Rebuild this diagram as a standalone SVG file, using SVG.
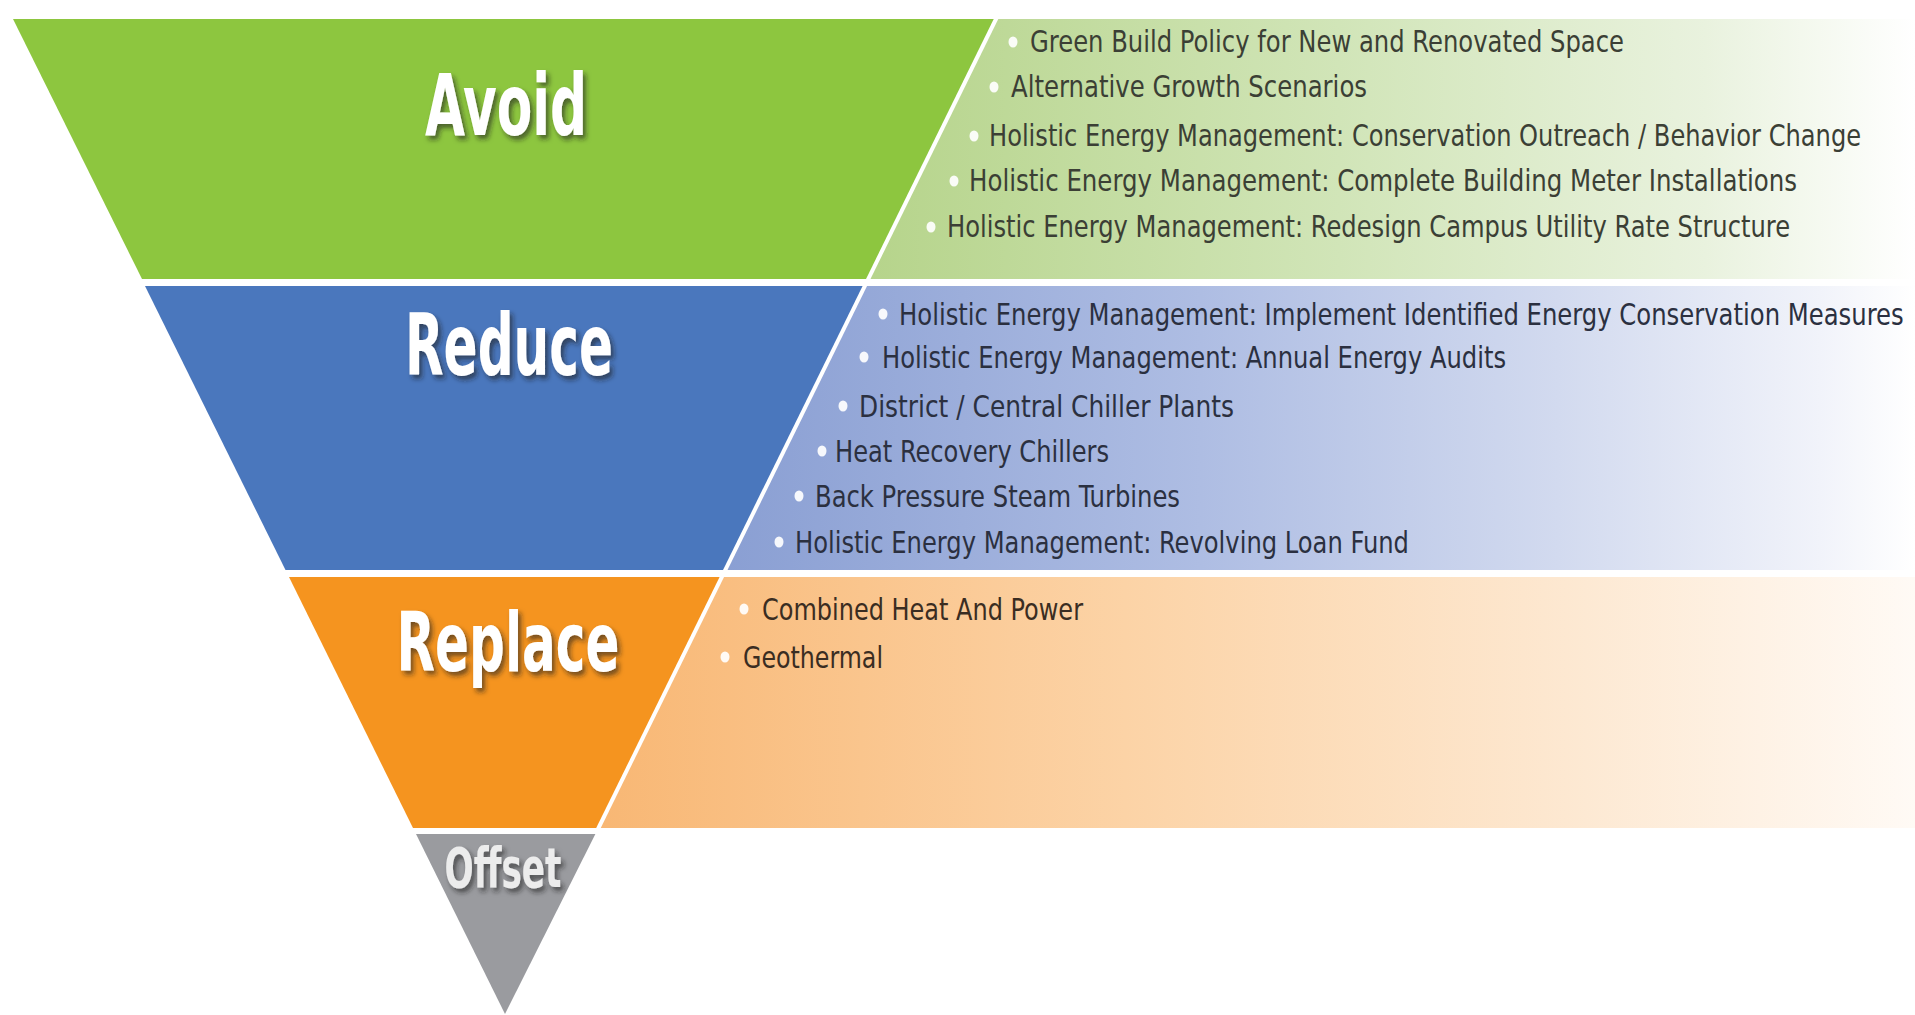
<svg xmlns="http://www.w3.org/2000/svg" width="1915" height="1015" viewBox="0 0 1915 1015">
  <style>
    .label { font-family: "Liberation Sans Narrow", "DejaVu Sans Condensed", "DejaVu Sans", sans-serif; font-weight: bold; fill: #ffffff; filter: url(#shadow); }
    .item { font-family: "Liberation Sans Narrow", "DejaVu Sans Condensed", "DejaVu Sans", sans-serif; font-size: 30px; }
    .green-item { fill: #3b3f35; }
    .blue-item { fill: #2b3040; }
    .orange-item { fill: #3a2d22; }
    .dot { fill: #ffffff; fill-opacity: 0.92; }
    .divider { stroke: #ffffff; stroke-width: 4; fill: none; }
  </style>
  <defs>
    <filter id="shadow" x="-20%" y="-20%" width="150%" height="160%">
      <feDropShadow dx="3" dy="4" stdDeviation="2.5" flood-color="#1a1a1a" flood-opacity="0.6"/>
    </filter>
    <linearGradient id="greenFade" gradientUnits="userSpaceOnUse" x1="868" y1="0" x2="1915" y2="0">
      <stop offset="0" stop-color="#b6d48b"/>
      <stop offset="0.45" stop-color="#d1e5b8"/>
      <stop offset="0.8" stop-color="#e9f2de"/>
      <stop offset="1" stop-color="#ffffff"/>
    </linearGradient>
    <linearGradient id="blueFade" gradientUnits="userSpaceOnUse" x1="725" y1="0" x2="1915" y2="0">
      <stop offset="0" stop-color="#8a9fd3"/>
      <stop offset="0.4" stop-color="#aebde3"/>
      <stop offset="0.7" stop-color="#d2daef"/>
      <stop offset="0.92" stop-color="#f1f3fa"/>
      <stop offset="1" stop-color="#ffffff"/>
    </linearGradient>
    <linearGradient id="orangeFade" gradientUnits="userSpaceOnUse" x1="598" y1="0" x2="1915" y2="0">
      <stop offset="0" stop-color="#f8b774"/>
      <stop offset="0.4" stop-color="#fcd3a6"/>
      <stop offset="0.75" stop-color="#fde9d3"/>
      <stop offset="1" stop-color="#fffaf5"/>
    </linearGradient>
  </defs>

  <rect x="0" y="0" width="1915" height="1015" fill="#ffffff"/>

  <!-- Tier 1: Avoid -->
  <g id="avoid">
    <polygon points="13,19 996,19 868,279 142,279" fill="#8dc63f"/>
    <polygon points="996,19 1915,19 1915,279 868,279" fill="url(#greenFade)"/>
    <text class="label" x="506" y="135" font-size="85" text-anchor="middle" textLength="162" lengthAdjust="spacingAndGlyphs">Avoid</text>
    <g class="green-item item">
      <ellipse class="dot" cx="1013" cy="42" rx="4.5" ry="5.5"/>
      <text x="1030" y="52" textLength="594" lengthAdjust="spacingAndGlyphs">Green Build Policy for New and Renovated Space</text>
      <ellipse class="dot" cx="994" cy="87" rx="4.5" ry="5.5"/>
      <text x="1011" y="97" textLength="356" lengthAdjust="spacingAndGlyphs">Alternative Growth Scenarios</text>
      <ellipse class="dot" cx="974" cy="136" rx="4.5" ry="5.5"/>
      <text transform="translate(989,146) scale(0.88,1)" x="0" y="0" textLength="991" lengthAdjust="spacingAndGlyphs">Holistic Energy Management: Conservation Outreach / Behavior Change</text>
      <ellipse class="dot" cx="954" cy="181" rx="4.5" ry="5.5"/>
      <text transform="translate(969,191) scale(0.88,1)" x="0" y="0" textLength="941" lengthAdjust="spacingAndGlyphs">Holistic Energy Management: Complete Building Meter Installations</text>
      <ellipse class="dot" cx="931" cy="227" rx="4.5" ry="5.5"/>
      <text transform="translate(947,237) scale(0.88,1)" x="0" y="0" textLength="958" lengthAdjust="spacingAndGlyphs">Holistic Energy Management: Redesign Campus Utility Rate Structure</text>
    </g>
  </g>

  <!-- Tier 2: Reduce -->
  <g id="reduce">
    <polygon points="145,286 865,286 725,570 285.5,570" fill="#4a77bd"/>
    <polygon points="865,286 1915,286 1915,570 725,570" fill="url(#blueFade)"/>
    <text class="label" x="509" y="375" font-size="85" text-anchor="middle" textLength="208" lengthAdjust="spacingAndGlyphs">Reduce</text>
    <g class="blue-item item">
      <ellipse class="dot" cx="883" cy="314" rx="4.5" ry="5.5"/>
      <text transform="translate(899,325) scale(0.85,1)" x="0" y="0" textLength="1182" lengthAdjust="spacingAndGlyphs">Holistic Energy Management: Implement Identified Energy Conservation Measures</text>
      <ellipse class="dot" cx="864" cy="357" rx="4.5" ry="5.5"/>
      <text x="882" y="368" textLength="624" lengthAdjust="spacingAndGlyphs">Holistic Energy Management: Annual Energy Audits</text>
      <ellipse class="dot" cx="843" cy="406" rx="4.5" ry="5.5"/>
      <text x="859" y="417" textLength="375" lengthAdjust="spacingAndGlyphs">District / Central Chiller Plants</text>
      <ellipse class="dot" cx="822" cy="451" rx="4.5" ry="5.5"/>
      <text x="835" y="462" textLength="274" lengthAdjust="spacingAndGlyphs">Heat Recovery Chillers</text>
      <ellipse class="dot" cx="799" cy="496" rx="4.5" ry="5.5"/>
      <text x="815" y="507" textLength="365" lengthAdjust="spacingAndGlyphs">Back Pressure Steam Turbines</text>
      <ellipse class="dot" cx="779" cy="542" rx="4.5" ry="5.5"/>
      <text x="795" y="553" textLength="614" lengthAdjust="spacingAndGlyphs">Holistic Energy Management: Revolving Loan Fund</text>
    </g>
  </g>

  <!-- Tier 3: Replace -->
  <g id="replace">
    <polygon points="289,577 721.7,577 598.4,828 413,828" fill="#f5941f"/>
    <polygon points="721.7,577 1915,577 1915,828 598.4,828" fill="url(#orangeFade)"/>
    <text class="label" x="508" y="671" font-size="82" text-anchor="middle" textLength="223" lengthAdjust="spacingAndGlyphs">Replace</text>
    <g class="orange-item item">
      <ellipse class="dot" cx="744" cy="609" rx="4.5" ry="5.5"/>
      <text x="762" y="620" textLength="321" lengthAdjust="spacingAndGlyphs">Combined Heat And Power</text>
      <ellipse class="dot" cx="725" cy="657" rx="4.5" ry="5.5"/>
      <text x="743" y="668" textLength="140" lengthAdjust="spacingAndGlyphs">Geothermal</text>
    </g>
  </g>

  <!-- Tier 4: Offset -->
  <g id="offset">
    <polygon points="416,834 595.4,834 505,1014" fill="#9a9b9f"/>
    <text class="label" x="503" y="887" font-size="55" text-anchor="middle" textLength="117" lengthAdjust="spacingAndGlyphs" style="fill:#ececec">Offset</text>
  </g>

  <!-- white rule between the coloured tiers and their item panels -->
  <g id="dividers">
    <line class="divider" x1="997" y1="17" x2="597" y2="831"/>
  </g>
</svg>
